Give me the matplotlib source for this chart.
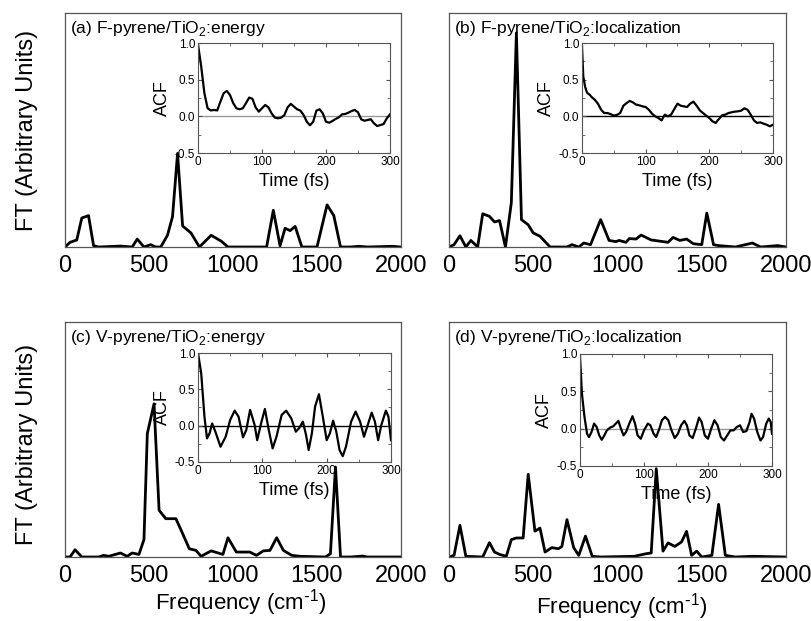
import matplotlib
matplotlib.use('Agg')
import matplotlib.pyplot as plt

plt.rcParams['font.family'] = ['Liberation Sans', 'DejaVu Sans']

# Main panels: FT spectra (normalised to axis height), frequency in cm^-1
freq_a = [0, 30, 70, 100, 140, 170, 200, 300, 330, 400, 430, 470, 510, 540, 570, 610, 640, 670,
          700, 750, 800, 870, 930, 970, 1200, 1240, 1280, 1310, 1340, 1370, 1410, 1500, 1560,
          1600, 1640, 1700, 1750, 1800, 1950, 2000]
ft_a = [0.0, 0.02, 0.03, 0.124, 0.134, 0.006, 0.0, 0.003, 0.004, 0.0, 0.034, 0.0, 0.01, 0.0,
        0.0, 0.05, 0.13, 0.40, 0.09, 0.06, 0.0, 0.05, 0.025, 0.0, 0.0, 0.157, 0.005, 0.08,
        0.07, 0.088, 0.0, 0.0, 0.18, 0.134, 0.0, 0.0, 0.003, 0.0, 0.003, 0.0]

freq_b = [0, 30, 65, 100, 130, 170, 200, 240, 270, 300, 335, 370, 400, 430, 470, 500, 540,
          600, 700, 730, 770, 800, 840, 900, 950, 990, 1010, 1050, 1070, 1110, 1140, 1200,
          1300, 1330, 1370, 1410, 1450, 1500, 1530, 1570, 1600, 1700, 1800, 1850, 1950, 2000]
ft_b = [0.0, 0.01, 0.048, 0.0, 0.028, 0.0, 0.142, 0.131, 0.107, 0.113, 0.0, 0.19, 0.915,
        0.117, 0.095, 0.06, 0.046, 0.0, 0.0, 0.01, 0.0, 0.017, 0.01, 0.117, 0.028, 0.023,
        0.028, 0.02, 0.036, 0.034, 0.051, 0.03, 0.02, 0.041, 0.028, 0.034, 0.014, 0.01,
        0.145, 0.01, 0.006, 0.0, 0.017, 0.0, 0.006, 0.0]

freq_c = [0, 30, 60, 100, 200, 230, 260, 330, 370, 400, 440, 470, 490, 530, 560, 600, 660,
          700, 740, 780, 810, 870, 940, 970, 1020, 1100, 1140, 1180, 1220, 1260, 1300, 1350,
          1400, 1550, 1580, 1610, 1640, 1700, 1770, 1800, 2000]
ft_c = [0.0, 0.0, 0.031, 0.0, 0.0, 0.007, 0.003, 0.017, 0.003, 0.017, 0.011, 0.074, 0.525,
        0.652, 0.199, 0.163, 0.163, 0.1, 0.035, 0.028, 0.003, 0.026, 0.011, 0.082, 0.021,
        0.021, 0.007, 0.026, 0.028, 0.082, 0.028, 0.007, 0.003, 0.0, 0.014, 0.383, 0.0, 0.0,
        0.004, 0.0, 0.0]

freq_d = [0, 30, 65, 100, 200, 240, 270, 300, 340, 370, 400, 440, 470, 510, 540, 570, 610,
          650, 670, 700, 740, 770, 810, 850, 900, 1100, 1170, 1200, 1230, 1270, 1300, 1340,
          1380, 1410, 1440, 1470, 1500, 1560, 1600, 1640, 1700, 1800, 2000]
ft_d = [0.0, 0.007, 0.135, 0.003, 0.0, 0.061, 0.021, 0.011, 0.003, 0.074, 0.081, 0.081,
        0.352, 0.11, 0.123, 0.021, 0.04, 0.035, 0.045, 0.159, 0.04, 0.007, 0.089, 0.003, 0.0,
        0.003, 0.014, 0.017, 0.376, 0.025, 0.06, 0.045, 0.064, 0.109, 0.007, 0.025, 0.0,
        0.007, 0.224, 0.007, 0.0, 0.003, 0.0]

# Insets: autocorrelation functions, time in fs
t_a = [0, 5, 10, 15, 20, 25, 30, 35, 40, 45, 50, 55, 60, 65, 70, 75, 80, 85, 90, 95, 100,
       105, 110, 115, 120, 125, 130, 135, 140, 145, 150, 155, 160, 165, 170, 175, 180, 185,
       190, 195, 200, 205, 210, 215, 220, 225, 230, 235, 240, 245, 250, 255, 260, 265, 270,
       275, 280, 285, 290, 295, 300]
acf_a = [0.98, 0.68, 0.315, 0.11, 0.08, 0.087, 0.08, 0.2, 0.315, 0.347, 0.29, 0.18, 0.11,
         0.096, 0.11, 0.18, 0.256, 0.24, 0.123, 0.064, 0.11, 0.155, 0.123, 0.04, -0.018,
         -0.027, -0.018, 0.018, 0.123, 0.17, 0.132, 0.096, 0.078, 0.018, -0.073, -0.123,
         -0.073, 0.078, 0.096, 0.04, -0.073, -0.087, -0.064, -0.036, -0.014, 0.027, 0.032,
         0.05, 0.073, 0.087, 0.055, -0.041, -0.06, -0.05, -0.04, -0.096, -0.132, -0.119,
         -0.105, -0.027, 0.027]

t_b = [0, 2, 5, 8, 12, 15, 20, 25, 30, 35, 40, 45, 50, 55, 60, 65, 70, 75, 80, 85, 90, 95,
       100, 105, 110, 115, 120, 125, 130, 135, 140, 145, 150, 155, 160, 165, 170, 175, 180,
       185, 190, 195, 200, 205, 210, 215, 220, 225, 230, 235, 240, 245, 250, 255, 260, 265,
       270, 275, 280, 285, 290, 295, 300]
acf_b = [0.955, 0.545, 0.4, 0.32, 0.295, 0.264, 0.227, 0.173, 0.09, 0.045, 0.045, 0.03, 0.01,
         0.02, 0.045, 0.145, 0.18, 0.21, 0.19, 0.16, 0.15, 0.136, 0.127, 0.09, 0.036, 0.0,
         -0.023, -0.055, 0.023, 0.0, 0.023, 0.1, 0.173, 0.145, 0.136, 0.127, 0.173, 0.2,
         0.145, 0.082, 0.045, 0.01, -0.023, -0.068, -0.09, -0.036, 0.014, 0.023, 0.045,
         0.055, 0.064, 0.068, 0.077, 0.109, 0.09, 0.023, -0.055, -0.09, -0.082, -0.1, -0.114,
         -0.136, -0.114]

t_c = [0, 5, 10, 14, 18, 22, 27, 35, 43, 50, 57, 63, 70, 75, 81, 88, 92, 98, 104, 110, 116,
       122, 130, 137, 145, 152, 157, 163, 168, 172, 177, 182, 188, 194, 200, 205, 210, 215,
       220, 225, 230, 238, 245, 252, 258, 263, 270, 275, 280, 285, 292, 296, 300]
acf_c = [1.0, 0.72, 0.125, -0.175, -0.106, 0.03, -0.083, -0.29, -0.152, 0.078, 0.207, 0.124,
         -0.161, -0.06, 0.217, 0.01, -0.2, 0.03, 0.23, -0.06, -0.313, -0.152, 0.147, 0.207,
         0.1, -0.083, -0.037, 0.055, -0.13, -0.336, -0.106, 0.263, 0.433, 0.124, -0.2,
         -0.106, 0.069, -0.083, -0.336, -0.42, -0.29, 0.055, 0.194, 0.055, -0.152, -0.014,
         0.18, 0.055, -0.2, 0.01, 0.207, 0.124, -0.2]

t_d = [0, 3, 7, 11, 14, 18, 22, 26, 30, 34, 38, 42, 47, 52, 56, 60, 64, 68, 72, 77, 82, 86,
       90, 95, 100, 106, 110, 115, 119, 124, 128, 133, 138, 143, 148, 153, 158, 163, 167,
       171, 176, 181, 186, 190, 195, 200, 205, 210, 215, 220, 225, 230, 235, 240, 245, 250,
       255, 260, 265, 268, 272, 277, 282, 286, 291, 295, 298, 300]
acf_d = [0.97, 0.47, 0.158, -0.068, -0.113, -0.045, 0.068, 0.023, -0.09, -0.149, -0.09,
         -0.023, 0.014, 0.032, 0.068, 0.104, 0.0, -0.09, -0.045, 0.068, 0.167, 0.068, -0.09,
         -0.135, -0.023, 0.068, 0.045, -0.068, -0.113, 0.0, 0.113, 0.158, 0.113, -0.023,
         -0.126, -0.068, 0.045, 0.104, 0.045, -0.09, -0.126, 0.0, 0.149, 0.09, -0.09, -0.135,
         0.0, 0.113, 0.045, -0.113, -0.158, -0.09, -0.023, -0.023, 0.023, 0.045, -0.045,
         -0.032, 0.09, 0.2, 0.135, -0.045, -0.158, -0.113, 0.068, 0.135, 0.09, -0.068]

titles = ['(a) F-pyrene/TiO$_\\mathregular{2}$:energy',
          '(b) F-pyrene/TiO$_\\mathregular{2}$:localization',
          '(c) V-pyrene/TiO$_\\mathregular{2}$:energy',
          '(d) V-pyrene/TiO$_\\mathregular{2}$:localization']
freq_label = 'Frequency (cm$^\\mathregular{\\text{-}1}$)'

W, H = 812, 621
fig = plt.figure(figsize=(W / 100, H / 100), dpi=100)


def px(l, t, r, b):
    return [l / W, 1 - b / H, (r - l) / W, (b - t) / H]


main_boxes = [px(65, 13, 401, 247), px(449, 13, 786, 247),
              px(65, 322, 401, 557), px(449, 322, 786, 557)]
inset_boxes = [px(198, 43, 390, 153), px(582, 43, 773, 153),
               px(198, 353, 391, 462), px(580, 354, 772, 466)]
zero_colors = ['#999999', 'black', 'black', '#999999']

spectra = [(freq_a, ft_a), (freq_b, ft_b), (freq_c, ft_c), (freq_d, ft_d)]
acfs = [(t_a, acf_a), (t_b, acf_b), (t_c, acf_c), (t_d, acf_d)]

for i in range(4):
    # inset first, main axes on top with transparent patch
    ins = fig.add_axes(inset_boxes[i], zorder=1)
    ins.plot(acfs[i][0], acfs[i][1], color='black', lw=1.6)
    ins.axhline(0, color=zero_colors[i], lw=1.0, zorder=0)
    ins.set_xlim(0, 300)
    ins.set_ylim(-0.5, 1.0)
    ins.set_xticks([0, 100, 200, 300])
    ins.set_xticks([50, 150, 250], minor=True)
    ins.set_yticks([-0.5, 0.0, 0.5, 1.0])
    ins.set_yticks([-0.25, 0.25, 0.75], minor=True)
    ins.yaxis.set_major_formatter(matplotlib.ticker.FormatStrFormatter('%.1f'))
    ins.tick_params(which='both', direction='in', top=True, right=True,
                    labelsize=8.5, color='#555555', pad=2)
    ins.tick_params(which='major', length=3)
    ins.tick_params(which='minor', length=2)
    ins.set_xlabel('Time (fs)', fontsize=13, labelpad=4)
    ins.set_ylabel('ACF', fontsize=13, labelpad=3)
    for s in ins.spines.values():
        s.set_color('#555555')
        s.set_linewidth(0.8)

    ax = fig.add_axes(main_boxes[i], zorder=2)
    ax.patch.set_visible(False)
    ax.plot(spectra[i][0], spectra[i][1], color='black', lw=2.0)
    ax.set_xlim(0, 2000)
    ax.set_ylim(0, 1.0)
    ax.set_xticks([0, 500, 1000, 1500, 2000])
    ax.set_yticks([])
    ax.tick_params(axis='x', length=0, labelsize=17, pad=6)
    for s in ax.spines.values():
        s.set_color('#555555')
        s.set_linewidth(0.9)
    ax.text(0.015, 0.975, titles[i], transform=ax.transAxes, fontsize=12.5,
            va='top', ha='left')

fig.text(27 / W, 1 - 130 / H, 'FT (Arbitrary Units)', rotation=90, fontsize=17,
         ha='center', va='center')
fig.text(27 / W, 1 - 444 / H, 'FT (Arbitrary Units)', rotation=90, fontsize=17,
         ha='center', va='center')
fig.text(241 / W, 1 - 603 / H, freq_label, fontsize=16, ha='center', va='center')
fig.text(622 / W, 1 - 607 / H, freq_label, fontsize=16, ha='center', va='center')

fig.savefig('out.png', dpi=100)
